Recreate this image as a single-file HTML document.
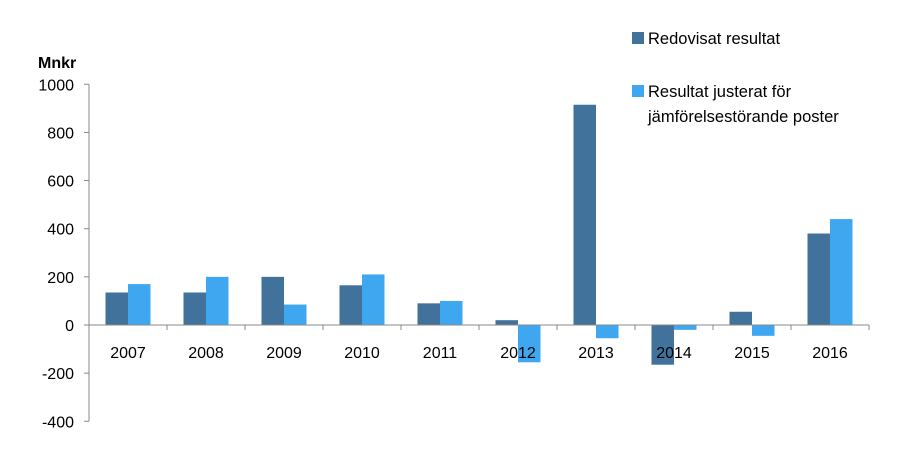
<!DOCTYPE html>
<html><head><meta charset="utf-8"><style>
body{margin:0;background:#fff;}
svg{display:block;font-family:"Liberation Sans",sans-serif;}
</style></head><body>
<svg width="900" height="456" viewBox="0 0 900 456">
<text x="38" y="68" font-size="16" font-weight="bold" fill="#000">Mnkr</text>
<g id="yaxis"></g>
<g id="bars"></g>
<g id="xaxis"></g>
<g>
<g>
<rect x="632" y="32" width="12" height="12" fill="#41729c"/>
<text x="648" y="44" font-size="16.5" fill="#000">Redovisat resultat</text></g>
<g>
<rect x="632" y="85" width="12" height="12" fill="#3fa7ef"/>
<text x="648" y="97" font-size="16.5" fill="#000">Resultat justerat för</text>
<text x="648" y="122" font-size="16.5" fill="#000">jämförelsestörande poster</text></g>
</g>
</svg>
<script>
const categories=["2007","2008","2009","2010","2011","2012","2013","2014","2015","2016"];
const redovisat=[135,135,200,165,90,20,915,-165,55,380];
const justerat=[170,200,85,210,100,-155,-55,-20,-45,440];
const yTicks=[1000,800,600,400,200,0,-200,-400];
const NS="http://www.w3.org/2000/svg";
const x0=89,catW=78,yZero=325,pxPer=337/1400;
const y=v=>yZero-v*pxPer;
const cx=i=>x0+catW*i;
function mk(t,a,p){const e=document.createElementNS(NS,t);for(const k in a)e.setAttribute(k,a[k]);p.appendChild(e);return e;}
const ya=document.getElementById('yaxis');
mk('line',{x1:x0,y1:y(1000),x2:x0,y2:y(-400),stroke:'#888','stroke-width':1},ya);
yTicks.forEach(t=>{
 mk('line',{x1:x0-5,y1:y(t),x2:x0,y2:y(t),stroke:'#888'},ya);
 const tx=mk('text',{x:x0-15,y:y(t)+6,'text-anchor':'end','font-size':16,fill:'#000'},ya);
 
 
 tx.textContent=t;
});
const xa=document.getElementById('xaxis');
const bg=document.getElementById('bars');
const bw=22.5;
categories.forEach((c,i)=>{
 const mid=cx(i)+catW/2;
 [[redovisat[i],'#41729c',mid-bw],[justerat[i],'#3fa7ef',mid]].forEach(([v,col,bx],s)=>{
  const r=mk('rect',{x:bx,y:Math.min(y(v),yZero),width:bw,height:Math.abs(y(v)-yZero),fill:col},bg);
  
  
 });
});
mk('line',{x1:x0,y1:yZero,x2:x0+catW*categories.length,y2:yZero,stroke:'#888'},xa);
categories.forEach((c,i)=>{
 mk('line',{x1:cx(i+1),y1:yZero,x2:cx(i+1),y2:yZero+5,stroke:'#888'},xa);
 const tx=mk('text',{x:cx(i)+catW/2,y:yZero+33,'text-anchor':'middle','font-size':16,fill:'#000'},xa);
 
 
 tx.textContent=c;
});
</script>
</body></html>
